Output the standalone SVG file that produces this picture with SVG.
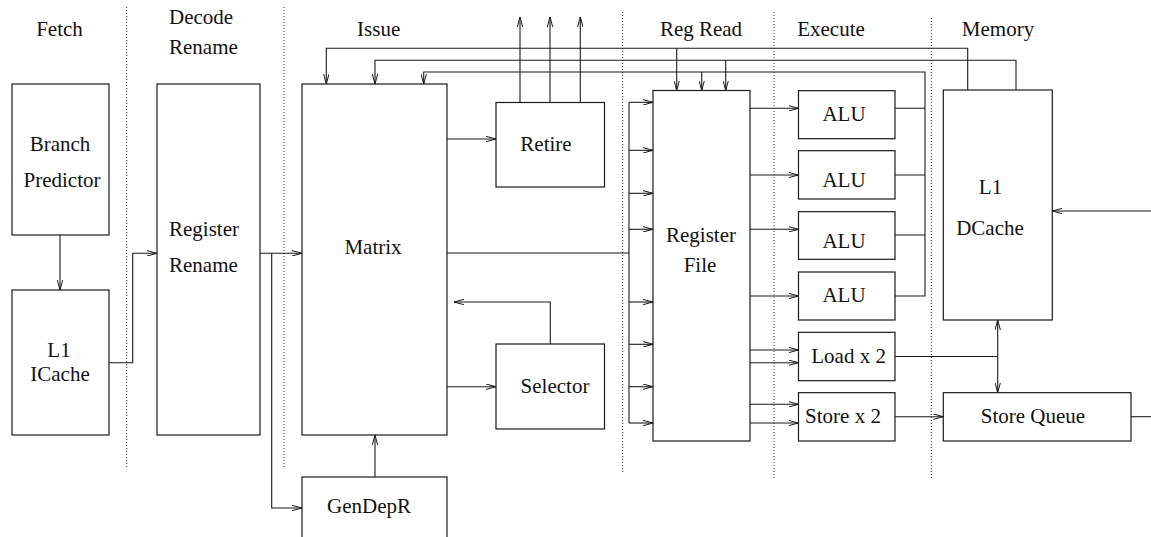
<svg xmlns="http://www.w3.org/2000/svg" width="1151" height="537" viewBox="0 0 1151 537">
<style>
.box{fill:#fff;stroke:#1a1a1a;stroke-width:1.2}
.t{font-family:"Liberation Serif","Times New Roman",serif;font-size:21px;fill:#111;text-anchor:middle}
.s{text-anchor:start}
.ln{fill:none;stroke:#1a1a1a;stroke-width:1.1}
.dot{fill:none;stroke:#333;stroke-width:1;stroke-dasharray:1 2}
</style>
<defs>
<marker id="a" viewBox="0 0 10 6" refX="10" refY="3" markerWidth="10" markerHeight="6" orient="auto-start-reverse" markerUnits="userSpaceOnUse">
<path d="M0,0.3 L10,3 L0,5.7" fill="none" stroke="#1a1a1a" stroke-width="1"/>
</marker>
</defs>
<rect width="1151" height="537" fill="#fff"/>

<g id="stages">
<line class="dot" x1="126.7" y1="7" x2="126.7" y2="467"/>
<line class="dot" x1="284" y1="7" x2="284" y2="467"/>
<line class="dot" x1="622.7" y1="12" x2="622.7" y2="473"/>
<line class="dot" x1="774" y1="12" x2="774" y2="478"/>
<line class="dot" x1="931.3" y1="18" x2="931.3" y2="480"/>
<text class="t" x="59.5" y="35.5">Fetch</text>
<text class="t s" x="169" y="24">Decode</text>
<text class="t s" x="169" y="54">Rename</text>
<text class="t" x="378.7" y="36">Issue</text>
<text class="t" x="701" y="36">Reg Read</text>
<text class="t" x="831" y="36">Execute</text>
<text class="t" x="998" y="36">Memory</text>
</g>

<g id="connectors">
<path class="ln" d="M60,235 V290" marker-end="url(#a)"/>
<path class="ln" d="M109,362.7 H132.7 V253.3 H157" marker-end="url(#a)"/>
<path class="ln" d="M260,253.3 H302" marker-end="url(#a)"/>
<path class="ln" d="M271.7,253.3 V508 H302" marker-end="url(#a)"/>
<path class="ln" d="M375,477 V435" marker-end="url(#a)"/>
<path class="ln" d="M447,139 H496" marker-end="url(#a)"/>
<path class="ln" d="M447,386.7 H496" marker-end="url(#a)"/>
<path class="ln" d="M550.3,344 V302 H454" marker-end="url(#a)"/>
<path class="ln" d="M520,102.5 V17" marker-end="url(#a)"/>
<path class="ln" d="M550,102.5 V17" marker-end="url(#a)"/>
<path class="ln" d="M580.3,102.5 V17" marker-end="url(#a)"/>
<path class="ln" d="M447,253 H629"/>
<path class="ln" d="M629,102.3 V423"/>
<path class="ln" d="M629,102.3 H653" marker-end="url(#a)"/>
<path class="ln" d="M629,150.3 H653" marker-end="url(#a)"/>
<path class="ln" d="M629,193.3 H653" marker-end="url(#a)"/>
<path class="ln" d="M629,229.3 H653" marker-end="url(#a)"/>
<path class="ln" d="M629,302 H653" marker-end="url(#a)"/>
<path class="ln" d="M629,344.3 H653" marker-end="url(#a)"/>
<path class="ln" d="M629,386.7 H653" marker-end="url(#a)"/>
<path class="ln" d="M629,423 H653" marker-end="url(#a)"/>
<path class="ln" d="M750,108.3 H798.5" marker-end="url(#a)"/>
<path class="ln" d="M750,175 H798.5" marker-end="url(#a)"/>
<path class="ln" d="M750,229.3 H798.5" marker-end="url(#a)"/>
<path class="ln" d="M750,296 H798.5" marker-end="url(#a)"/>
<path class="ln" d="M750,350 H798.5" marker-end="url(#a)"/>
<path class="ln" d="M750,362.7 H798.5" marker-end="url(#a)"/>
<path class="ln" d="M750,404.3 H798.5" marker-end="url(#a)"/>
<path class="ln" d="M750,423 H798.5" marker-end="url(#a)"/>
<path class="ln" d="M895,108.3 H925 M895,175 H925 M895,235 H925"/>
<path class="ln" d="M895,296 H925 V72 H423.7 V84" marker-end="url(#a)"/>
<path class="ln" d="M701.7,72 V90.5" marker-end="url(#a)"/>
<path class="ln" d="M967.7,90 V48.3 H326.3 V84" marker-end="url(#a)"/>
<path class="ln" d="M676.7,48.3 V90.5" marker-end="url(#a)"/>
<path class="ln" d="M1016,90 V60.3 H375 V84" marker-end="url(#a)"/>
<path class="ln" d="M725.7,60.3 V90.5" marker-end="url(#a)"/>
<path class="ln" d="M889,356.5 H997.7"/>
<path class="ln" d="M997.7,320 V392.7" marker-start="url(#a)" marker-end="url(#a)"/>
<path class="ln" d="M895,416.7 H943.3" marker-end="url(#a)"/>
<path class="ln" d="M1131,416.7 H1151"/>
<path class="ln" d="M1151,211 H1052.3" marker-end="url(#a)"/>
</g>

<g id="branch-predictor">
<rect class="box" x="12" y="84" width="97" height="151"/>
<text class="t" x="60" y="151">Branch</text>
<text class="t" x="62" y="187">Predictor</text>
</g>
<g id="l1-icache">
<rect class="box" x="12" y="290" width="97" height="145"/>
<text class="t" x="59" y="357">L1</text>
<text class="t" x="60" y="381">ICache</text>
</g>
<g id="register-rename">
<rect class="box" x="157" y="84" width="103" height="351"/>
<text class="t s" x="169" y="236">Register</text>
<text class="t s" x="169" y="272">Rename</text>
</g>
<g id="matrix">
<rect class="box" x="302" y="84" width="145" height="351"/>
<text class="t" x="373" y="254">Matrix</text>
</g>
<g id="gendepr">
<rect class="box" x="302" y="477" width="145" height="70"/>
<text class="t" x="369" y="513">GenDepR</text>
</g>
<g id="retire">
<rect class="box" x="496" y="102.5" width="108.5" height="84.5"/>
<text class="t" x="546" y="151">Retire</text>
</g>
<g id="selector">
<rect class="box" x="496" y="344" width="108.5" height="85"/>
<text class="t" x="555" y="393">Selector</text>
</g>
<g id="register-file">
<rect class="box" x="653" y="90.5" width="97" height="350.5"/>
<text class="t" x="701" y="242">Register</text>
<text class="t" x="700" y="272">File</text>
</g>
<g id="alu1">
<rect class="box" x="798.5" y="90.7" width="96.5" height="48"/>
<text class="t" x="844" y="121">ALU</text>
</g>
<g id="alu2">
<rect class="box" x="798.5" y="150.7" width="96.5" height="48.3"/>
<text class="t" x="844" y="187">ALU</text>
</g>
<g id="alu3">
<rect class="box" x="798.5" y="211.7" width="96.5" height="47.6"/>
<text class="t" x="844" y="248">ALU</text>
</g>
<g id="alu4">
<rect class="box" x="798.5" y="272" width="96.5" height="48"/>
<text class="t" x="844" y="302">ALU</text>
</g>
<g id="load">
<rect class="box" x="798.5" y="332.3" width="96.5" height="48.4"/>
<text class="t" x="848.6" y="363">Load x 2</text>
</g>
<g id="store">
<rect class="box" x="798.5" y="392.7" width="96.5" height="48.3"/>
<text class="t" x="843" y="423">Store x 2</text>
</g>
<g id="l1-dcache">
<rect class="box" x="943.3" y="90" width="109" height="230"/>
<text class="t" x="990.5" y="194">L1</text>
<text class="t" x="990" y="235">DCache</text>
</g>
<g id="store-queue">
<rect class="box" x="943.3" y="392.7" width="187.7" height="48.3"/>
<text class="t" x="1033" y="423">Store Queue</text>
</g>
</svg>
